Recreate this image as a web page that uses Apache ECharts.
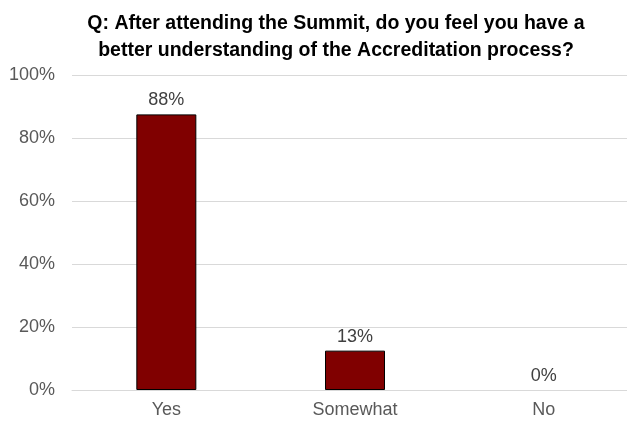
<!DOCTYPE html>
<html><head><meta charset="utf-8">
<script src="https://cdn.jsdelivr.net/npm/echarts@6/dist/echarts.min.js"></script>
<style>html,body{margin:0;padding:0;background:#fff}#c{width:627px;height:421px}</style>
</head><body><div id="c"></div>
<script>
const categories = ['Yes', 'Somewhat', 'No'];
const values = [87.5, 12.5, 0];
const yTicks = [0, 20, 40, 60, 80, 100];
const titleText = 'Q: After attending the Summit, do you feel you have a\nbetter understanding of the Accreditation process?';

const chart = echarts.init(document.getElementById('c'));
chart.setOption({
  animation: false,
  title: {
    text: titleText,
    left: 331, top: 5, textAlign: 'center',
    textStyle: {fontFamily: 'Liberation Sans, Arial', fontWeight: 'bold', fontSize: 19.5, color: '#000', lineHeight: 27}
  },
  grid: {left: 72, width: 566, top: 75, bottom: 31, containLabel: false, outerBoundsMode: 'none'},
  xAxis: {
    type: 'category', data: categories,
    axisLine: {show: true, lineStyle: {color: '#d9d9d9'}},
    axisTick: {show: false},
    axisLabel: {fontFamily: 'Liberation Sans, Arial', fontSize: 18, color: '#595959', margin: 11}
  },
  yAxis: {
    type: 'value', min: yTicks[0], max: yTicks[yTicks.length-1], interval: 20,
    axisLine: {show: false}, axisTick: {show: false},
    splitLine: {lineStyle: {color: '#d9d9d9'}},
    axisLabel: {fontFamily: 'Liberation Sans, Arial', fontSize: 18, color: '#595959', margin: 17, formatter: v => v + '%'}
  },
  series: [{
    type: 'bar', barWidth: 60,
    data: values.map(v => ({value: v, itemStyle: {borderWidth: v === 0 ? 0 : 1}})),
    itemStyle: {color: '#800000', borderColor: '#000', borderWidth: 1},
    label: {show: true, position: 'top', distance: 5, fontFamily: 'Liberation Sans, Arial', fontSize: 18, color: '#404040',
      formatter: p => Math.round(p.value) + '%'}
  }]
});
</script></body></html>
